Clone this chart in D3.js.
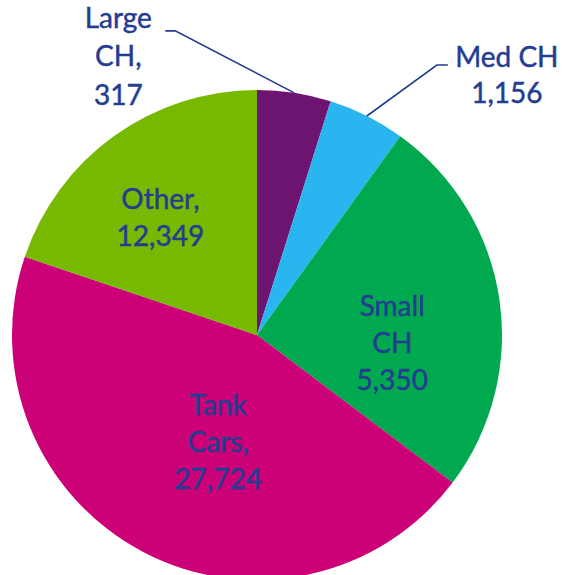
<!DOCTYPE html>
<html lang="en">
<head>
  <meta charset="UTF-8" />
  <title>Car types</title>
  <script src="https://cdn.jsdelivr.net/npm/d3@7"></script>
  <style>
    body { margin: 0; background: #fff; }
    text { font-family: Lato, "Noto Sans", sans-serif; font-size: 28px; fill: #233d91; stroke: #233d91; stroke-width: 0.45px; }
  </style>
</head>
<body>
<script>
  // slice shares (percent of the circle)
  const categories = ["Large CH", "Med CH", "Small CH", "Tank Cars", "Other"];
  const shares = [4.86, 5.08, 25.34, 44.89, 19.83];
  // label text as printed on the chart
  const labelLines = [
    ["Large", "CH,", "317"],
    ["Med CH", "1,156"],
    ["Small", "CH", "5,350"],
    ["Tank", "Cars,", "27,724"],
    ["Other,", "12,349"]
  ];
  const colors = ["#6d1370", "#29b6f0", "#00a94f", "#cc0077", "#77b900"];

  const width = 563, height = 575;
  const radius = 245;
  const cx = 257, cy = 335;

  const svg = d3.select("body").append("svg")
    .attr("width", width)
    .attr("height", height);

  const g = svg.append("g").attr("transform", `translate(${cx},${cy})`);

  const pie = d3.pie().sort(null).value(d => d.value);
  const data = pie(categories.map((c, i) => ({ name: c, value: shares[i], lines: labelLines[i], color: colors[i] })));

  const arc = d3.arc().innerRadius(0).outerRadius(radius);
  const edgeArc = d3.arc().innerRadius(radius).outerRadius(radius);
  const labelArc = d3.arc().innerRadius(radius * 0.55).outerRadius(radius * 0.55);

  g.selectAll("path.slice")
    .data(data)
    .join("path")
    .attr("class", "slice")
    .attr("d", arc)
    .attr("fill", d => d.data.color);

  // inside labels get a small nudge, outside ones hang off a leader line
  const nudge = { "Small CH": [2, 28], "Tank Cars": [24, -12], "Other": [-18, -8] };
  const leaders = {
    "Large CH": { elbow: [-119, -62], tail: -10, text: [-47, -3], lh: 38.5 },
    "Med CH": { elbow: [70, -51], tail: 11, text: [59, 2], lh: 36 }
  };
  const lineH = 37;

  data.forEach(d => {
    const name = d.data.name;
    if (leaders[name]) {
      const L = leaders[name];
      const [sx, sy] = edgeArc.centroid(d);
      const ex = sx + L.elbow[0], ey = sy + L.elbow[1];
      const tx = ex + L.tail;
      g.append("path")
        .attr("d", d3.line()([[sx, sy], [ex, ey], [tx, ey]]))
        .attr("fill", "none")
        .attr("stroke", "#233d91")
        .attr("stroke-width", 1.6);
      const bx = tx + L.text[0];
      const firstBase = ey + L.text[1];
      const t = g.append("text").attr("text-anchor", "middle");
      d.data.lines.forEach((s, i) => {
        t.append("tspan").attr("x", bx).attr("y", firstBase + i * L.lh).text(s);
      });
    } else {
      const [lx, ly] = labelArc.centroid(d);
      const [nx, ny] = nudge[name] || [0, 0];
      const n = d.data.lines.length;
      const t = g.append("text").attr("text-anchor", "middle");
      d.data.lines.forEach((s, i) => {
        t.append("tspan")
          .attr("x", lx + nx)
          .attr("y", ly + ny + (i - (n - 1) / 2) * lineH + 10)
          .text(s);
      });
    }
  });
</script>
</body>
</html>
